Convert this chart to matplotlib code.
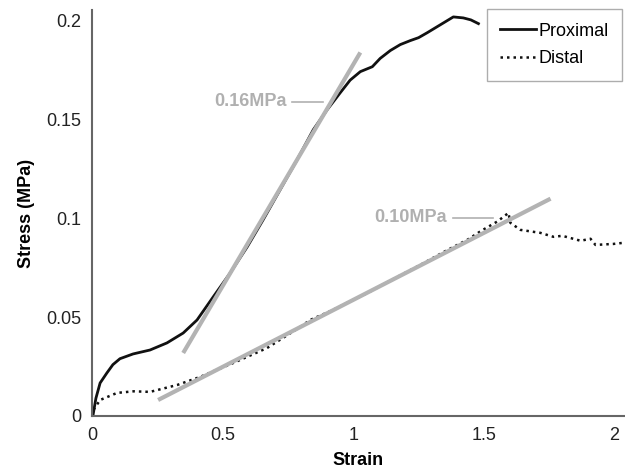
import matplotlib
matplotlib.use("Agg")
import matplotlib.pyplot as plt

plt.rcParams['font.family'] = ['Liberation Sans', 'DejaVu Sans']

prox_strain = [0.0, 0.004, 0.015, 0.031, 0.057, 0.080, 0.107, 0.157, 0.222, 0.287, 0.349, 0.402,
               0.464, 0.529, 0.594, 0.655, 0.720, 0.785, 0.847, 0.900, 0.950, 0.988, 1.027,
               1.073, 1.103, 1.142, 1.180, 1.218, 1.250, 1.283, 1.333, 1.383, 1.421, 1.450, 1.479]
prox_stress = [0.0, 0.0005, 0.009, 0.0167, 0.0218, 0.026, 0.0290, 0.0314, 0.0334, 0.037, 0.042, 0.0486,
               0.0603, 0.0724, 0.0856, 0.0993, 0.1145, 0.1297, 0.1449, 0.155, 0.1636, 0.170, 0.1743,
               0.1768, 0.181, 0.185, 0.188, 0.190, 0.1915, 0.194, 0.198, 0.202, 0.2015, 0.2005, 0.1986]

dist_strain = [0.0, 0.005, 0.031, 0.096, 0.160, 0.222, 0.326, 0.414, 0.540, 0.670, 0.797, 0.835,
               0.923, 1.054, 1.169, 1.250, 1.360, 1.437, 1.487, 1.552, 1.594, 1.601, 1.640,
               1.716, 1.766, 1.800, 1.870, 1.908, 1.927, 1.996, 2.030]
dist_stress = [0.0, 0.003, 0.0081, 0.0117, 0.0125, 0.0122, 0.0157, 0.0198, 0.0268, 0.0344, 0.0451, 0.0486,
               0.0537, 0.0623, 0.0704, 0.0760, 0.0840, 0.0892, 0.0935, 0.0985, 0.1028, 0.0978, 0.0942,
               0.0927, 0.0907, 0.0912, 0.0887, 0.0897, 0.0866, 0.0871, 0.0876]

fit_prox_x = [0.349, 1.027]
fit_prox_y = [0.0319, 0.184]
fit_dist_x = [0.253, 1.755]
fit_dist_y = [0.0081, 0.110]

ann_labels = ["0.16MPa", "0.10MPa"]
ann_text_x = [0.747, 1.36]
ann_line_x = [(0.766, 0.885), (1.38, 1.536)]
ann_y = [0.159, 0.1003]

xticks = [0, 0.5, 1, 1.5, 2]
xticklabels = ["0", "0.5", "1", "1.5", "2"]
yticks = [0, 0.05, 0.1, 0.15, 0.2]
yticklabels = ["0", "0.05", "0.1", "0.15", "0.2"]

fig = plt.figure(figsize=(6.25, 4.72), dpi=100)
ax = fig.add_axes([92/625, 1-416/472, 1-92/625, (416-10)/472])

fitc = '#b3b3b3'
ax.plot(fit_prox_x, fit_prox_y, color=fitc, lw=3, solid_capstyle='butt', zorder=3)
ax.plot(fit_dist_x, fit_dist_y, color=fitc, lw=3, solid_capstyle='butt', zorder=3)
l1, = ax.plot(prox_strain, prox_stress, color='#111111', lw=2.0, label='Proximal', zorder=2)
l2, = ax.plot(dist_strain, dist_stress, color='#111111', lw=1.8, ls=(0, (1, 1.6)), label='Distal', zorder=2)

for lab, tx, (lx0, lx1), yy in zip(ann_labels, ann_text_x, ann_line_x, ann_y):
    ax.text(tx, yy, lab, color='#b0b0b0', fontsize=13, fontweight='bold', ha='right', va='center')
    ax.plot([lx0, lx1], [yy, yy], color='#b0b0b0', lw=1.2)

ax.set_xlim(0, 2.04)
ax.set_ylim(0, 0.2055)
ax.set_xticks(xticks)
ax.set_xticklabels(xticklabels)
ax.set_yticks(yticks)
ax.set_yticklabels(yticklabels)
ax.tick_params(length=0, labelsize=13, pad=8, colors='#222222')
for s in ['top', 'right']:
    ax.spines[s].set_visible(False)
for s in ['left', 'bottom']:
    ax.spines[s].set_color('#666666')
    ax.spines[s].set_linewidth(1.5)

ax.set_xlabel('Strain', fontsize=13, fontweight='bold', labelpad=6)
ax.set_ylabel('Stress (MPa)', fontsize=13, fontweight='bold', labelpad=8)

leg = fig.legend(handles=[l1, l2], loc='upper right', bbox_to_anchor=(622/625, 1-9/472),
                 fontsize=13, frameon=True, fancybox=False, handlelength=2.0,
                 handletextpad=0.1, labelspacing=0.6, borderaxespad=0, borderpad=0.75)
leg.get_frame().set_edgecolor('#999999')
leg.get_frame().set_linewidth(1.0)

fig.savefig('out.png', dpi=100)
